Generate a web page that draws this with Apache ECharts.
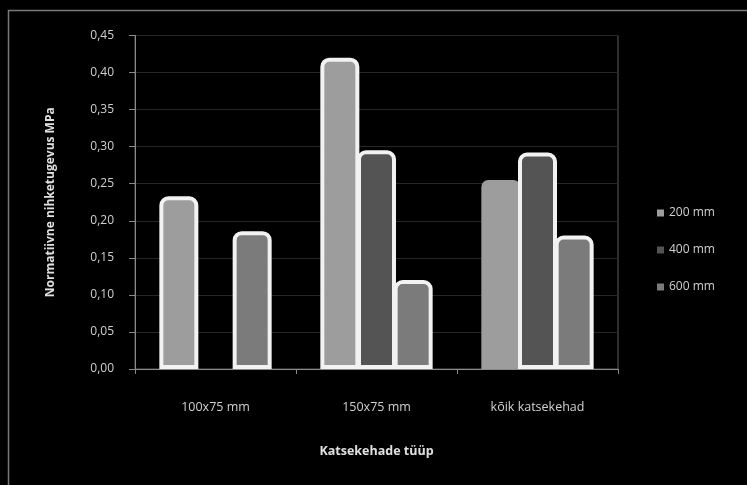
<!DOCTYPE html>
<html>
<head>
<meta charset="utf-8">
<script src="https://cdn.jsdelivr.net/npm/echarts@6/dist/echarts.min.js"></script>
<style>
  html, body { margin: 0; padding: 0; background: #000; }
  #chart { width: 747px; height: 485px; }
</style>
</head>
<body>
<div id="chart"></div>
<script>
// Katsekehade tüübid ja normatiivne nihketugevus (MPa)
const categories = ['100x75 mm', '150x75 mm', 'kõik katsekehad'];
const seriesNames = ['200 mm', '400 mm', '600 mm'];
const values200 = [0.233, 0.42, 0.255];
const values400 = [null, 0.295, 0.292];
const values600 = [0.186, 0.12, 0.18];
const yTicks = { min: 0, max: 0.45, interval: 0.05 };

const colors = ['#9d9d9d', '#545454', '#7b7b7b'];
// bars drawn without the white outline
const plainBars = { '200 mm': [2] };

function buildData(name, vals) {
  return vals.map((v, i) => {
    if (plainBars[name] && plainBars[name].includes(i)) {
      return { value: v, itemStyle: { borderWidth: 0 } };
    }
    return v;
  });
}

const chart = echarts.init(document.getElementById('chart'), null, { renderer: 'canvas' });
const textFont = '"Open Sans", "DejaVu Sans", sans-serif';

const option = {
  backgroundColor: '#000',
  animation: false,
  graphic: [{
    type: 'rect',
    shape: { x: 8.5, y: 10.5, width: 760, height: 500 },
    style: { fill: 'none', stroke: '#7a7a7a', lineWidth: 1.5 },
    silent: true
  }],
  grid: { left: 135, right: 129, top: 35.5, bottom: 116, containLabel: false,
          show: true, borderColor: '#5a5a5a', borderWidth: 1, backgroundColor: 'transparent' },
  legend: {
    orient: 'vertical',
    left: 652,
    top: 202,
    itemWidth: 7,
    itemHeight: 7,
    itemGap: 25,
    icon: 'rect',
    itemStyle: { borderWidth: 0 },
    textStyle: { color: '#d0d0d0', fontSize: 12, fontFamily: textFont },
    data: seriesNames
  },
  xAxis: {
    type: 'category',
    data: categories,
    name: 'Katsekehade tüüp',
    nameLocation: 'middle',
    nameGap: 76,
    nameTextStyle: { color: '#e0e0e0', fontSize: 12.5, fontWeight: 'bold', fontFamily: textFont },
    axisLine: { lineStyle: { color: '#8a8a8a', width: 1 } },
    axisTick: { show: true, length: 5, lineStyle: { color: '#8a8a8a' } },
    axisLabel: { color: '#d0d0d0', fontSize: 12.5, margin: 32, fontFamily: textFont }
  },
  yAxis: {
    type: 'value',
    min: yTicks.min,
    max: yTicks.max,
    interval: yTicks.interval,
    name: 'Normatiivne nihketugevus MPa',
    nameLocation: 'middle',
    nameGap: 78,
    nameTextStyle: { color: '#e0e0e0', fontSize: 12, fontWeight: 'bold', fontFamily: textFont },
    axisLine: { show: true, lineStyle: { color: '#8a8a8a', width: 1 } },
    axisTick: { show: true, length: 6, lineStyle: { color: '#8a8a8a' } },
    axisLabel: {
      color: '#d0d0d0', fontSize: 12, margin: 21, fontFamily: textFont,
      formatter: v => v.toFixed(2).replace('.', ',')
    },
    splitLine: { show: true, lineStyle: { color: '#262626', width: 1 } }
  },
  series: [
    { name: seriesNames[0], data: buildData(seriesNames[0], values200), color: colors[0] },
    { name: seriesNames[1], data: buildData(seriesNames[1], values400), color: colors[1] },
    { name: seriesNames[2], data: buildData(seriesNames[2], values600), color: colors[2] }
  ].map(s => Object.assign({
    type: 'bar',
    barWidth: 39,
    barGap: '-6%',
    itemStyle: { borderColor: '#f2f2f2', borderWidth: 4, borderRadius: [7, 7, 0, 0] }
  }, s))
};

chart.setOption(option);
</script>
</body>
</html>
